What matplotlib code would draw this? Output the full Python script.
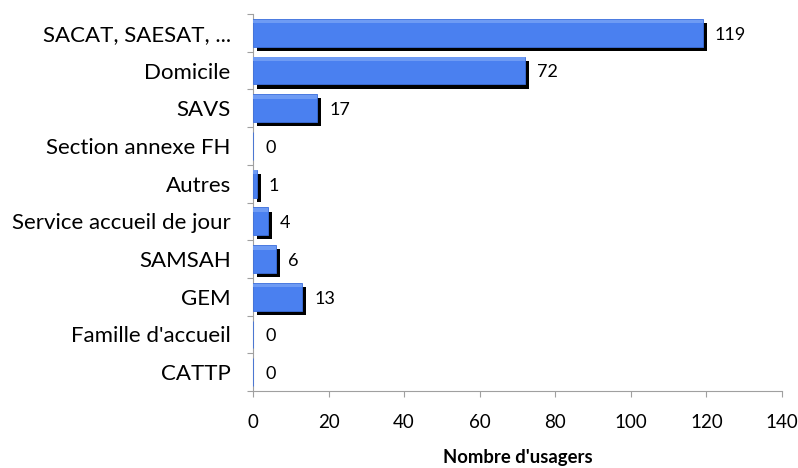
import matplotlib.pyplot as plt
import matplotlib.patheffects as pe
import numpy as np

categories = ['SACAT, SAESAT, ...', 'Domicile', 'SAVS', 'Section annexe FH', 'Autres',
              'Service accueil de jour', 'SAMSAH', 'GEM', "Famille d'accueil", 'CATTP']
values = [119, 72, 17, 0, 1, 4, 6, 13, 0, 0]

plt.rcParams['font.family'] = ['Lato', 'DejaVu Sans']

fig = plt.figure(figsize=(7.98, 4.68), dpi=100)
ax = fig.add_axes([0.317, 0.1645, 0.663, 0.8056])

y = np.arange(len(categories))
shadow = [pe.SimplePatchShadow(offset=(3, -3), shadow_rgbFace='black', alpha=1.0), pe.Normal()]
bars = ax.barh(y, values, height=0.74, color='#4a80f0', edgecolor='#3c6fdc', linewidth=0.6, zorder=3)
for b in bars:
    b.set_path_effects(shadow)
# lighter top strip for a glossy look
ax.barh(y - 0.30, values, height=0.1, color='#6e9bf4', linewidth=0, zorder=4)

for yi, v in zip(y, values):
    ax.text(v + 3.2, yi + 0.05, str(v), va='center', ha='left', fontsize=13)

ax.set_ylim(len(categories) - 0.5, -0.5)
ax.set_xlim(0, 140)
ax.set_xticks(range(0, 141, 20))
ax.set_yticks(np.arange(-0.5, len(categories), 1), minor=False)
ax.set_yticklabels([])
ax.set_yticks(y, minor=True)
ax.set_yticklabels(categories, minor=True, fontsize=16)
ax.tick_params(axis='y', which='minor', length=0, pad=16)
ax.tick_params(axis='y', which='major', length=4.5, color='#a0a0a0', direction='out')
ax.tick_params(axis='x', length=4.5, color='#a0a0a0', direction='out', labelsize=13.5, pad=12)

for s in ['top', 'right']:
    ax.spines[s].set_visible(False)
for s in ['left', 'bottom']:
    ax.spines[s].set_color('#a0a0a0')

ax.set_xlabel("Nombre d'usagers", fontsize=13.3, fontweight='bold', labelpad=13)

fig.savefig('out.png', dpi=100)
